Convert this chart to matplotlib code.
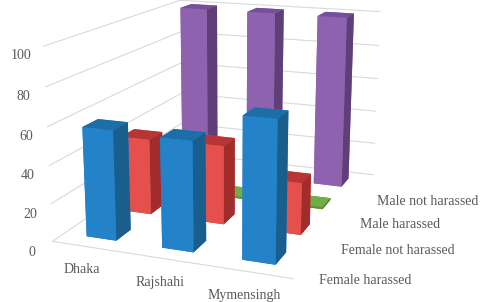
"""
3D column chart: harassment by city and group
out: out.png
"""

import numpy as np
import matplotlib.pyplot as plt

cities = ["Dhaka", "Rajshahi", "Mymensingh"]
series = ["Female harassed", "Female not harassed", "Male harassed", "Male not harassed"]

female_harassed = [58, 57, 72]
female_not_harassed = [42, 43, 28]
male_harassed = [1, 1, 1]
male_not_harassed = [100, 100, 100]

# face colours per series: bottom, top, front, back, left, right
face_cols = [
    ["#1b6ea8", "#1c6da8", "#2382c8", "#2382c8", "#2382c8", "#1a5e8e"],
    ["#b83535", "#b83535", "#e5504c", "#e5504c", "#e5504c", "#a02c2c"],
    ["#5e8f3a", "#70ad47", "#5e8f3a", "#5e8f3a", "#5e8f3a", "#4e7a30"],
    ["#74509a", "#74509a", "#8e62ae", "#8e62ae", "#8e62ae", "#5e3f78"],
]

values = [female_harassed, female_not_harassed, male_harassed, male_not_harassed]

plt.rcParams['font.family'] = ['Liberation Serif', 'DejaVu Serif']

fig = plt.figure(figsize=(4.84, 3.02), dpi=100)
ax = fig.add_subplot(projection='3d')
ax.set_position([-0.22, -0.09, 1.36, 1.36])

w = 0.4
xs, ys, zs, dz, cols = [], [], [], [], []
for j, vals in enumerate(values):
    for i, v in enumerate(vals):
        xs.append(i + 0.5 - w / 2)
        ys.append(j + 0.5 - w / 2)
        zs.append(0)
        dz.append(v)
        cols.extend(face_cols[j])

ax.bar3d(xs, ys, zs, w, w, dz, color=cols, shade=False, edgecolor='none')

ax.set_xlim(0, 3)
ax.set_ylim(0, 4)
ax.set_zlim(0, 100)
ax.set_box_aspect((280, 360, 220), zoom=1.0)
ax.view_init(elev=15, azim=-69)
ax.set_proj_type('persp', focal_length=0.45)

ax.set_xticks(np.arange(3) + 0.5)
ax.set_xticklabels(cities)
ax.set_yticks(np.arange(4) + 0.5)
ax.set_yticklabels(series, ha='left')
ax.set_zticks(np.arange(0, 101, 20))
ax.zaxis.set_ticks_position('lower')

for axis in (ax.xaxis, ax.yaxis, ax.zaxis):
    axis.set_pane_color((1, 1, 1, 0))
    axis._axinfo['tick']['inward_factor'] = 0
    axis._axinfo['tick']['outward_factor'] = 0
    axis._axinfo['grid']['color'] = (0.85, 0.85, 0.85, 1)
    axis._axinfo['grid']['linewidth'] = 0.8
    axis.set_tick_params(labelsize=10, colors='#595959', pad=0)
ax.xaxis._axinfo['grid']['color'] = (1, 1, 1, 0)
ax.yaxis._axinfo['grid']['color'] = (1, 1, 1, 0)
ax.xaxis.line.set_color('#d9d9d9')
ax.yaxis.line.set_color((1, 1, 1, 0))
ax.zaxis.line.set_color((1, 1, 1, 0))

plt.savefig("out.png", dpi=100)
